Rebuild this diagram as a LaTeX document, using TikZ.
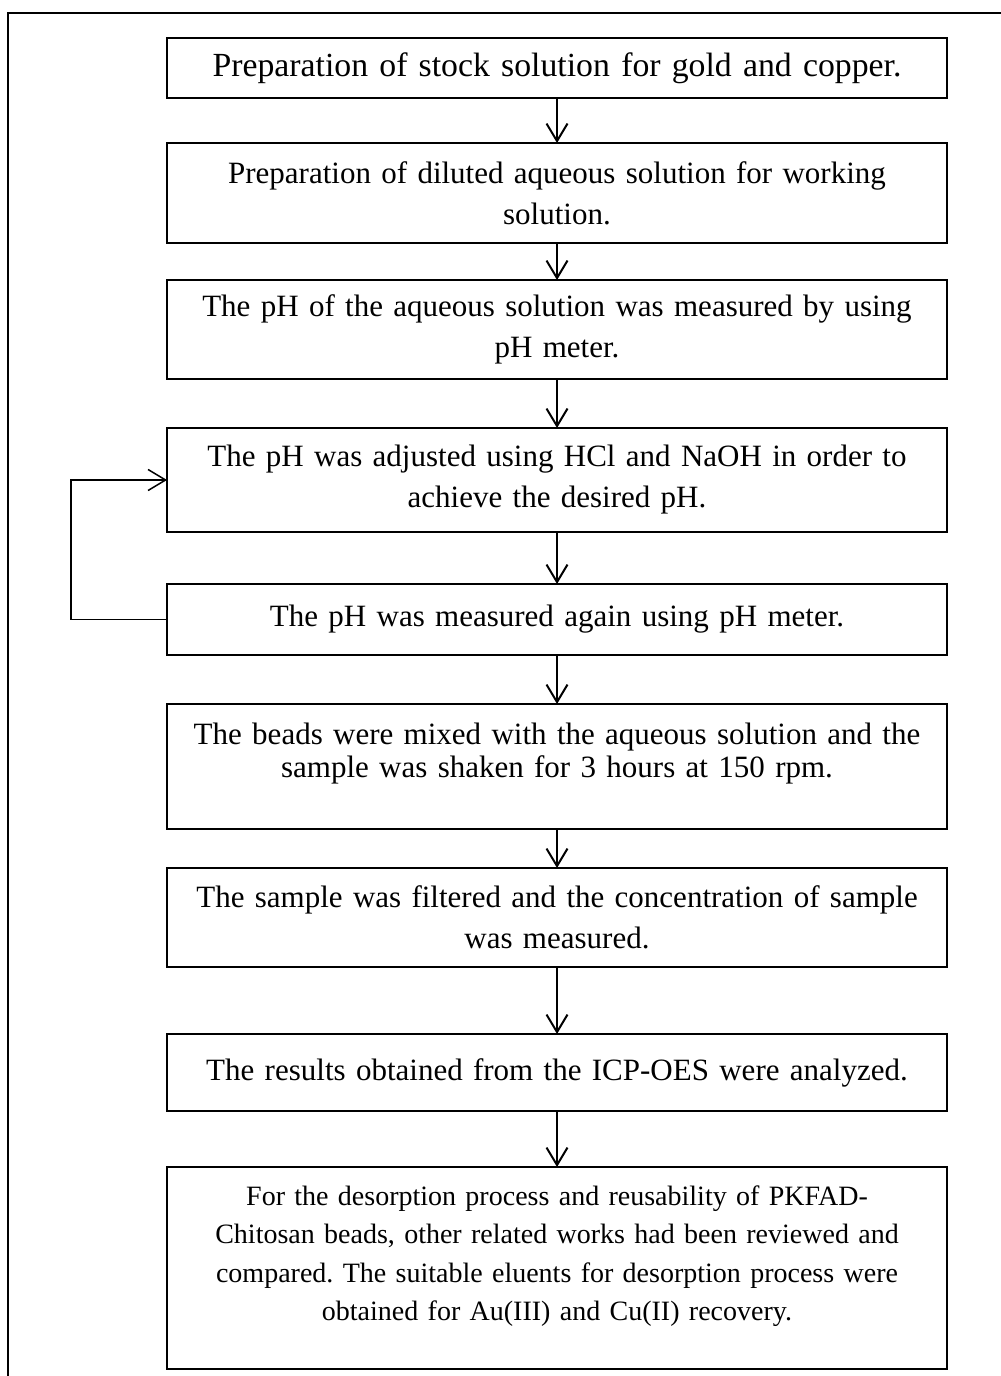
\documentclass[tikz,border=0pt]{standalone}
\usepackage{fontspec}
\setmainfont{Liberation Serif}
\frenchspacing
\usetikzlibrary{arrows.meta, positioning}

\begin{document}
\begin{tikzpicture}[
  box/.style={draw, line width=0.8pt, align=center, inner xsep=3pt, inner ysep=0pt,
              outer sep=0pt, text width=306pt, font=\fontsize{12.4pt}{13.2pt}\selectfont},
  first/.style={box, font=\fontsize{13.5pt}{14pt}\selectfont},
  loose/.style={box, font=\fontsize{12.4pt}{16.4pt}\selectfont},
  note/.style={box, font=\fontsize{11.2pt}{15.4pt}\selectfont},
  fl/.style={-{Straight Barb[length=7pt, width=8.4pt]}, line width=0.8pt},
  back/.style={fl, line width=0.6pt},
  frame/.style={line width=0.6pt}
]
\useasboundingbox (0,0) rectangle (400.4pt,-550.4pt);
\draw[frame] (3.2pt,-560pt) |- (410pt,-5.2pt);

\node[first, minimum height=24pt] (b1) at (222.8pt,-27.2pt)
  {Preparation of stock solution for gold and copper.};
\node[loose, minimum height=40pt, below=18pt of b1] (b2)
  {Preparation of diluted aqueous solution for working\\solution.};
\node[loose, minimum height=39.6pt, below=14.8pt of b2] (b3)
  {The pH of the aqueous solution was measured by using\\pH meter.};
\node[loose, minimum height=41.6pt, below=19.6pt of b3] (b4)
  {The pH was adjusted using HCl and NaOH in order to\\achieve the desired pH.};
\node[box, minimum height=28.4pt, below=20.8pt of b4] (b5)
  {The pH was measured again using pH meter.};
\node[box, minimum height=50pt, below=19.6pt of b5] (b6)
  {The beads were mixed with the aqueous solution and the\\sample was shaken for 3 hours at 150 rpm.\rule[-12.8pt]{0pt}{12.8pt}};
\node[loose, minimum height=39.6pt, below=15.6pt of b6] (b7)
  {The sample was filtered and the concentration of sample\\was measured.};
\node[box, minimum height=30.8pt, below=26.8pt of b7] (b8)
  {The results obtained from the ICP-OES were analyzed.};
\node[note, minimum height=80.8pt, below=22.4pt of b8] (b9)
  {For the desorption process and reusability of PKFAD-\\Chitosan beads, other related works had been reviewed and\\compared. The suitable eluents for desorption process were\\obtained for Au(III) and Cu(II) recovery.\rule[-12pt]{0pt}{12pt}};

\draw[fl] (b1) -- (b2);
\draw[fl] (b2) -- (b3);
\draw[fl] (b3) -- (b4);
\draw[fl] (b4) -- (b5);
\draw[fl] (b5) -- (b6);
\draw[fl] (b6) -- (b7);
\draw[fl] (b7) -- (b8);
\draw[fl] (b8) -- (b9);
% pH re-check loops back to the adjustment step
\draw[back] (b5.west) -- ([xshift=-38.4pt]b5.west) |- (b4.west);
\end{tikzpicture}
\end{document}
